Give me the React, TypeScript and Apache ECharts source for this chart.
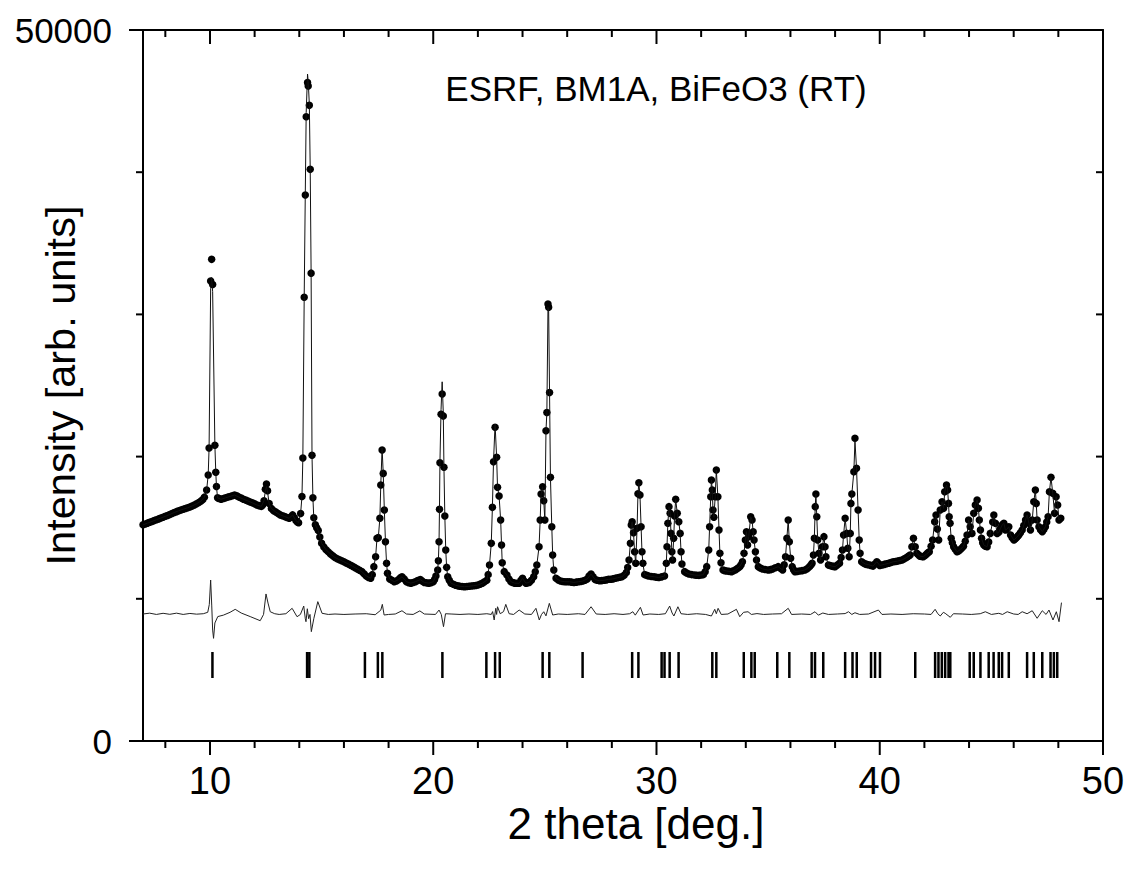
import React, { useEffect, useRef } from "react";
import * as echarts from "echarts";

const xMajorTicks = [10, 20, 30, 40, 50];
const xMinorTicks = [8, 12, 14, 16, 18, 22, 24, 26, 28, 32, 34, 36, 38, 42, 44, 46, 48];
const yMajorTicks = [0, 50000];
const yMinorTicks = [10000, 20000, 30000, 40000];

const annotation = "ESRF, BM1A, BiFeO3 (RT)";
const xTitle = "2 theta [deg.]";
const yTitle = "Intensity [arb. units]";

const braggPositions = [
  10.11, 14.35, 14.45, 16.94, 17.52, 17.72, 20.41, 22.38, 22.77, 22.98, 24.9, 25.2, 26.69,
  28.91, 29.19, 30.23, 30.36, 30.59, 30.99, 32.5, 32.68, 33.91, 34.25, 34.4, 35.41, 35.95,
  36.95, 37.1, 37.47, 38.45, 38.78, 38.97, 39.61, 39.79, 40.01, 41.59, 42.48, 42.63, 42.78,
  42.93, 43.08, 43.16, 44.03, 44.21, 44.51, 44.88, 45.1, 45.33, 45.48, 45.78, 46.6, 46.9,
  47.28, 47.65, 47.8, 47.95,
];
const braggTop = 6260;
const braggBottom = 4430;

const observed: [number, number][] = [
  [7.0,15200],[7.1,15260],[7.2,15320],[7.3,15380],[7.4,15440],[7.5,15500],[7.6,15560],[7.7,15620],
  [7.8,15680],[7.9,15740],[8.0,15800],[8.1,15860],[8.2,15930],[8.3,16000],[8.4,16070],[8.5,16130],
  [8.6,16190],[8.7,16250],[8.8,16300],[8.9,16350],[9.0,16400],[9.1,16460],[9.2,16530],[9.3,16600],
  [9.4,16680],[9.5,16770],[9.6,16880],[9.68,16980],[9.75,17150],[9.85,17650],
  [9.92,18700],[9.96,20600],[10.03,32350],[10.075,33870],[10.12,32100],[10.22,20800],[10.26,18900],[10.29,17900],
  [10.34,17100],[10.4,17050],[10.5,17000],[10.6,17050],[10.7,17100],[10.8,17150],[10.9,17200],[11.0,17250],
  [11.1,17300],[11.2,17250],[11.3,17150],[11.4,17080],[11.5,17000],[11.6,16940],[11.7,16880],[11.8,16810],
  [11.9,16750],[12.0,16680],[12.1,16600],[12.2,16550],[12.3,16500],[12.36,16600],[12.42,16900],[12.48,17700],
  [12.53,18070],[12.58,17600],[12.65,16700],[12.75,16350],[12.85,16200],[12.95,16100],[13.05,16000],[13.15,15900],
  [13.25,15840],[13.35,15780],[13.45,15720],[13.55,15660],[13.62,15750],[13.7,15900],[13.78,15700],[13.85,15500],
  [13.91,15400],[13.97,15350],
  [14.06,16000],[14.12,17200],[14.16,19900],[14.22,31200],[14.27,38400],[14.31,43900],[14.37,46300],[14.40,46060],
  [14.45,44700],[14.49,40200],[14.53,32900],[14.57,20100],[14.61,17100],[14.65,15700],[14.72,15200],[14.78,15000],
  [14.85,14800],[14.92,14350],[15.0,13900],[15.1,13650],[15.2,13450],[15.3,13300],[15.4,13150],[15.5,13020],
  [15.6,12900],[15.7,12820],[15.8,12750],[15.9,12680],[16.0,12600],[16.1,12520],[16.2,12450],[16.3,12360],
  [16.4,12280],[16.5,12190],[16.6,12100],[16.7,12010],[16.8,11920],[16.9,11760],[17.0,11600],[17.1,11500],
  [17.2,11450],[17.27,11700],[17.34,12260],[17.42,12960],[17.48,14250],[17.54,14300],
  [17.61,15660],[17.65,18000],[17.71,20460],[17.76,18820],[17.81,16240],[17.86,14010],[17.91,12500],[17.95,11790],
  [18.05,11400],[18.15,11300],[18.25,11200],[18.35,11250],[18.45,11350],[18.53,11480],[18.6,11550],[18.7,11400],
  [18.8,11200],[18.9,11130],[19.0,11100],[19.1,11150],[19.2,11200],[19.3,11280],[19.42,11350],[19.5,11250],
  [19.6,11150],[19.7,11120],[19.8,11100],[19.9,11130],[20.0,11200],[20.06,11350],[20.12,11600],[20.2,12020],
  [20.23,12680],[20.26,14010],[20.28,16290],
  [20.30,19570],[20.35,22970],[20.40,24400],[20.45,22850],[20.48,19250],[20.52,15820],[20.56,13430],[20.60,12210],
  [20.65,11550],[20.72,11300],[20.8,11100],[20.9,11020],[21.0,10950],[21.1,10910],[21.2,10880],[21.3,10860],
  [21.4,10850],[21.5,10860],[21.6,10880],[21.7,10900],[21.8,10920],[21.9,10940],[22.0,10970],[22.1,11030],
  [22.2,11100],[22.3,11200],[22.4,11300],[22.46,11700],[22.52,12380],[22.6,13900],[22.65,16430],[22.70,19640],
  [22.77,22060],[22.84,19950],
  [22.88,17840],[22.95,17230],[23.02,15540],[23.06,13780],[23.09,12540],[23.18,11910],[23.30,11670],[23.39,11400],
  [23.48,11200],[23.56,11150],[23.65,11100],[23.75,11090],[23.85,11090],[23.93,11300],[24.0,11440],[24.07,11250],
  [24.15,11100],[24.22,11120],[24.3,11150],[24.4,11300],[24.5,11550],[24.57,11900],[24.64,12380],[24.74,13660],
  [24.79,15540],[24.83,17370],[24.90,17880],[24.95,16900],[25.00,15540],[25.05,21820],[25.09,23100],[25.14,30730],
  [25.17,30500],[25.21,24500],[25.25,18540],[25.31,15070],[25.35,13080],[25.40,12020],[25.50,11440],[25.6,11330],
  [25.7,11250],[25.8,11220],[25.9,11200],[26.0,11200],[26.1,11200],[26.2,11170],[26.3,11150],[26.4,11170],
  [26.5,11200],[26.6,11220],[26.7,11250],[26.8,11300],[26.9,11400],[26.98,11600],[27.07,11740],[27.16,11550],
  [27.25,11350],[27.35,11300],[27.45,11270],[27.55,11280],[27.65,11300],[27.75,11330],[27.85,11370],[27.95,11380],
  [28.05,11400],[28.15,11440],[28.25,11480],[28.35,11510],[28.45,11550],[28.55,11650],[28.65,11850],[28.71,12200],
  [28.77,12730],
  [28.83,13900],[28.87,15190],[28.91,15420],[28.97,14650],[29.02,13310],[29.07,12500],[29.13,14960],[29.17,17380],
  [29.21,18160],[29.26,17300],[29.31,15070],[29.35,13310],[29.39,12500],[29.47,11700],[29.56,11650],[29.65,11600],
  [29.78,11570],[29.9,11550],[30.0,11520],[30.1,11500],[30.22,11540],
  [30.36,11600],[30.44,12500],[30.47,13660],[30.51,15310],[30.56,16480],[30.61,16010],[30.65,14600],
  [30.69,13310],[30.72,12730],[30.77,14250],[30.81,15820],[30.86,17000],[30.93,16010],[31.00,15420],[31.06,14600],
  [31.10,13310],[31.14,12450],[31.26,11910],[31.35,11820],[31.45,11750],[31.58,11700],[31.71,11670],[31.8,11660],
  [31.9,11650],[32.0,11670],[32.1,11700],[32.18,11900],[32.25,12260],
  [32.34,13430],[32.38,15070],[32.43,17180],[32.46,18350],[32.50,17650],[32.53,16240],[32.57,15730],[32.63,17180],
  [32.68,19060],[32.75,17180],[32.80,14840],[32.84,13200],[32.89,12540],[32.98,12020],[33.06,11980],[33.15,11950],
  [33.25,11930],[33.36,11910],[33.45,11970],[33.55,12050],[33.64,12150],[33.73,12260],[33.79,12400],[33.85,12610],
  [33.92,13200],[33.98,14130],[34.03,14720],[34.08,13780],[34.13,14370],
  [34.22,15770],[34.28,15540],[34.33,14720],[34.37,14130],[34.43,13310],[34.48,12730],[34.56,12260],[34.65,12170],
  [34.75,12100],[34.87,12060],[35.0,12020],[35.1,12050],[35.2,12100],[35.32,12180],[35.45,12260],[35.55,12150],
  [35.65,12020],[35.72,12400],[35.78,12960],[35.84,14250],[35.90,15540],[35.95,14010],
  [36.01,12850],[36.08,12260],[36.14,12050],[36.20,11910],[36.3,11920],[36.4,11950],[36.52,11980],[36.65,12020],
  [36.75,12120],[36.85,12250],[36.92,12380],[36.97,12500],[37.03,13080],
  [37.07,14250],[37.11,16480],[37.14,17370],[37.18,15770],[37.22,14130],[37.28,13200],[37.35,12730],[37.43,13660],
  [37.50,14370],[37.55,13660],[37.59,12960],[37.70,12380],[37.77,12340],[37.85,12300],[37.93,12280],[38.0,12260],
  [38.1,12380],[38.2,12500],[38.27,12900],[38.33,13430],
  [38.38,14490],[38.45,15660],[38.52,14600],[38.57,13550],[38.63,12960],[38.68,14600],[38.71,16710],[38.75,17370],
  [38.84,18940],[38.89,21290],[38.96,19180],[39.03,16240],[39.08,14130],[39.12,13200],[39.19,12610],[39.27,12520],
  [39.35,12450],[39.42,12420],[39.5,12400],[39.6,12350],[39.7,12300],[39.78,12450],[39.87,12610],[39.94,12480],
  [40.0,12350],[40.1,12380],[40.2,12420],[40.3,12460],[40.4,12500],[40.5,12550],[40.6,12600],[40.7,12620],
  [40.8,12650],[40.9,12690],[41.0,12730],[41.1,12810],[41.2,12900],[41.28,12990],
  [41.36,13080],[41.44,13660],[41.51,14250],[41.59,13660],[41.66,13200],[41.73,13100],[41.8,13000],[41.88,12970],
  [41.95,12960],[42.03,13050],[42.1,13150],[42.16,13230],[42.22,13310],[42.3,13700],[42.37,14130],[42.46,15420],
  [42.52,15890],[42.58,14900],[42.64,14130],
  [42.71,16240],[42.79,16830],[42.86,16360],[42.91,17530],[42.99,18000],[43.04,17650],[43.08,16710],[43.11,15770],
  [43.15,15310],[43.20,14250],[43.25,13950],[43.31,13660],[43.38,13480],[43.46,13310],[43.53,13370],[43.6,13450],
  [43.68,13570],[43.75,13700],[43.83,14050],[43.91,14490],[43.98,15540],
  [44.05,15070],[44.13,14600],[44.21,16010],[44.28,16600],[44.36,16950],[44.42,16360],[44.46,15540],[44.51,14840],
  [44.56,14250],[44.61,13950],[44.66,13780],[44.73,13700],[44.81,13660],[44.88,14000],[44.95,14600],[45.06,15400],
  [45.11,15890],[45.18,15310],[45.26,14600],
  [45.34,14700],[45.41,14960],[45.49,15200],[45.56,15310],[45.63,14840],[45.70,14900],[45.78,15070],[45.86,14490],
  [45.93,14300],[46.01,14130],[46.06,14200],[46.12,14300],[46.18,14400],[46.23,14490],[46.3,14650],[46.38,14840],
  [46.45,15150],[46.53,15540],[46.60,15890],[46.68,15310],[46.75,14840],
  [46.83,15540],[46.90,16830],[46.97,17650],[47.01,16710],[47.05,15540],[47.13,15070],[47.2,14850],[47.28,14720],
  [47.35,14880],[47.42,15070],[47.48,15400],
  [47.54,15770],[47.60,17530],[47.67,18540],[47.75,17420],[47.83,16010],[47.90,17180],[47.97,16600],[48.03,15540],
  [48.11,15660],
];

const calculated: [number, number][] = [
  [7.0,15200],[7.2,15320],[7.4,15440],[7.6,15560],[7.8,15680],[8.0,15800],[8.2,15930],[8.4,16070],
  [8.6,16190],[8.8,16300],[9.0,16400],[9.2,16530],[9.4,16680],[9.6,16880],[9.75,17150],[9.85,17650],
  [9.92,18700],[9.96,20600],[10.03,31800],[10.075,32600],[10.12,31600],[10.22,20800],[10.26,18900],[10.29,17900],
  [10.34,17100],[10.5,17000],[10.7,17100],[10.9,17200],[11.1,17300],[11.3,17150],[11.5,17000],[11.7,16880],
  [11.9,16750],[12.1,16600],[12.3,16500],[12.42,16900],[12.48,17600],[12.53,17900],[12.58,17500],[12.65,16700],
  [12.75,16350],[12.95,16100],[13.15,15900],[13.35,15780],[13.55,15660],[13.7,15900],[13.85,15500],[13.97,15350],
  [14.06,16000],[14.12,17200],[14.16,19900],[14.22,31200],[14.27,38600],[14.31,44200],[14.37,46900],[14.40,46400],
  [14.45,44800],[14.49,40300],[14.53,32900],[14.57,20100],[14.61,17100],[14.65,15700],[14.72,15200],[14.85,14800],
  [15.0,13900],[15.2,13450],[15.4,13150],[15.6,12900],[15.8,12750],[16.0,12600],[16.2,12450],[16.4,12280],
  [16.6,12100],[16.8,11920],[17.0,11600],[17.2,11450],[17.34,12260],[17.42,12960],[17.48,14250],[17.54,14300],
  [17.61,15660],[17.65,18000],[17.71,20600],[17.76,18820],[17.81,16240],[17.86,14010],[17.91,12500],[17.95,11790],
  [18.05,11400],[18.25,11200],[18.45,11350],[18.6,11550],[18.8,11200],[19.0,11100],[19.2,11200],[19.42,11350],
  [19.6,11150],[19.8,11100],[20.0,11200],[20.12,11600],[20.2,12020],[20.23,12680],[20.26,14010],[20.28,16290],
  [20.30,19570],[20.35,23300],[20.40,25260],[20.45,23100],[20.48,19250],[20.52,15820],[20.56,13430],[20.60,12210],
  [20.65,11550],[20.8,11100],[21.0,10950],[21.2,10880],[21.4,10850],[21.6,10880],[21.8,10920],[22.0,10970],
  [22.2,11100],[22.4,11300],[22.52,12380],[22.6,13900],[22.65,16430],[22.70,19640],[22.77,22290],[22.84,19950],
  [22.88,17840],[22.95,17230],[23.02,15540],[23.06,13780],[23.09,12540],[23.18,11910],[23.30,11670],[23.48,11200],
  [23.65,11100],[23.85,11090],[24.0,11440],[24.15,11100],[24.3,11150],[24.5,11550],[24.64,12380],[24.74,13660],
  [24.79,15540],[24.83,17370],[24.90,17880],[24.95,16900],[25.00,15540],[25.05,21820],[25.09,23100],[25.14,30500],
  [25.17,30300],[25.21,24500],[25.25,18540],[25.31,15070],[25.35,13080],[25.40,12020],[25.50,11440],[25.7,11250],
  [25.9,11200],[26.1,11200],[26.3,11150],[26.5,11200],[26.7,11250],[26.9,11400],[27.07,11740],[27.25,11350],
  [27.45,11270],[27.65,11300],[27.85,11370],[28.05,11400],[28.25,11480],[28.45,11550],[28.65,11850],[28.77,12730],
  [28.83,13900],[28.87,15190],[28.91,15420],[28.97,14650],[29.02,13310],[29.07,12500],[29.13,14960],[29.17,17380],
  [29.21,18160],[29.26,17300],[29.31,15070],[29.35,13310],[29.39,12500],[29.47,11700],[29.65,11600],[29.9,11550],
  [30.1,11500],[30.36,11600],[30.44,12500],[30.47,13660],[30.51,15310],[30.56,16480],[30.61,16010],[30.65,14600],
  [30.69,13310],[30.72,12730],[30.77,14250],[30.81,15820],[30.86,17000],[30.93,16010],[31.00,15420],[31.06,14600],
  [31.10,13310],[31.14,12450],[31.26,11910],[31.45,11750],[31.71,11670],[31.9,11650],[32.1,11700],[32.25,12260],
  [32.34,13430],[32.38,15070],[32.43,17180],[32.46,18350],[32.50,17650],[32.53,16240],[32.57,15730],[32.63,17180],
  [32.68,19060],[32.75,17180],[32.80,14840],[32.84,13200],[32.89,12540],[32.98,12020],[33.15,11950],[33.36,11910],
  [33.55,12050],[33.73,12260],[33.85,12610],[33.92,13200],[33.98,14130],[34.03,14720],[34.08,13780],[34.13,14370],
  [34.22,15770],[34.28,15540],[34.33,14720],[34.37,14130],[34.43,13310],[34.48,12730],[34.56,12260],[34.75,12100],
  [35.0,12020],[35.2,12100],[35.45,12260],[35.65,12020],[35.78,12960],[35.84,14250],[35.90,15540],[35.95,14010],
  [36.01,12850],[36.08,12260],[36.20,11910],[36.4,11950],[36.65,12020],[36.85,12250],[36.97,12500],[37.03,13080],
  [37.07,14250],[37.11,16480],[37.14,17370],[37.18,15770],[37.22,14130],[37.28,13200],[37.35,12730],[37.43,13660],
  [37.50,14370],[37.55,13660],[37.59,12960],[37.70,12380],[37.85,12300],[38.0,12260],[38.2,12500],[38.33,13430],
  [38.38,14490],[38.45,15660],[38.52,14600],[38.57,13550],[38.63,12960],[38.68,14600],[38.71,16710],[38.75,17370],
  [38.84,18940],[38.89,21100],[38.96,19180],[39.03,16240],[39.08,14130],[39.12,13200],[39.19,12610],[39.35,12450],
  [39.5,12400],[39.7,12300],[39.87,12610],[40.0,12350],[40.2,12420],[40.4,12500],[40.6,12600],[40.8,12650],
  [41.0,12730],[41.2,12900],[41.36,13080],[41.44,13660],[41.51,14250],[41.59,13660],[41.66,13200],[41.8,13000],
  [41.95,12960],[42.1,13150],[42.22,13310],[42.37,14130],[42.46,15420],[42.52,15890],[42.58,14900],[42.64,14130],
  [42.71,16240],[42.79,16830],[42.86,16360],[42.91,17530],[42.99,18000],[43.04,17650],[43.08,16710],[43.11,15770],
  [43.15,15310],[43.20,14250],[43.31,13660],[43.46,13310],[43.6,13450],[43.75,13700],[43.91,14490],[43.98,15540],
  [44.05,15070],[44.13,14600],[44.21,16010],[44.28,16600],[44.36,16950],[44.42,16360],[44.46,15540],[44.51,14840],
  [44.56,14250],[44.66,13780],[44.81,13660],[44.95,14600],[45.06,15400],[45.11,15890],[45.18,15310],[45.26,14600],
  [45.34,14700],[45.41,14960],[45.49,15200],[45.56,15310],[45.63,14840],[45.70,14900],[45.78,15070],[45.86,14490],
  [46.01,14130],[46.12,14300],[46.23,14490],[46.38,14840],[46.53,15540],[46.60,15890],[46.68,15310],[46.75,14840],
  [46.83,15540],[46.90,16830],[46.97,17650],[47.01,16710],[47.05,15540],[47.13,15070],[47.28,14720],[47.42,15070],
  [47.54,15770],[47.60,17530],[47.67,18540],[47.75,17420],[47.83,16010],[47.90,17180],[47.97,16600],[48.03,15540],
  [48.11,15660],
];

const difference: [number, number][] = [
  [7.0,8930],[7.3,8990],[7.6,8900],[7.9,8980],[8.2,8910],[8.5,8990],[8.8,8900],[9.1,8970],[9.4,8920],[9.7,8950],
  [9.9,9050],[9.97,9600],[10.03,11320],[10.08,9500],[10.12,7800],[10.16,7220],[10.22,8300],[10.35,8750],[10.6,8850],
  [10.9,9050],[11.13,9260],[11.4,9000],[11.8,8750],[12.25,8460],[12.4,8900],[12.51,10340],[12.6,9700],[12.7,9090],
  [12.9,8950],[13.1,8900],[13.4,8950],[13.68,9330],[13.9,8740],[14.05,8900],[14.2,9490],[14.27,8600],[14.3,8390],
  [14.36,9300],[14.42,8600],[14.48,8900],[14.54,7690],[14.65,8600],[14.83,9800],[15.02,8980],[15.3,8900],[15.6,8930],
  [16.0,8900],[16.5,8930],[17.0,8950],[17.4,8880],[17.65,9200],[17.72,9610],[17.8,8860],[18.0,8900],[18.3,8930],
  [18.6,9160],[18.8,8930],[19.1,8900],[19.4,9150],[19.6,8930],[20.1,8900],[20.26,9210],[20.36,8900],[20.46,8040],
  [20.55,8950],[20.8,8930],[21.2,8900],[21.6,8930],[22.0,8900],[22.4,8950],[22.6,8900],[22.66,9100],[22.73,8510],
  [22.8,9330],[22.84,8900],[22.88,9440],[23.0,8950],[23.15,9100],[23.25,9610],[23.4,8950],[23.6,8900],[23.85,9210],
  [24.1,8930],[24.4,8900],[24.6,9330],[24.75,8510],[24.85,8900],[24.95,9090],[25.05,8800],[25.2,9680],[25.35,8860],
  [25.6,8930],[26.0,8900],[26.5,8950],[26.8,8900],[27.07,9440],[27.3,8930],[27.7,8900],[28.1,8950],[28.5,8900],
  [28.8,8950],[28.94,9090],[29.05,8850],[29.28,9400],[29.4,8860],[29.7,8930],[30.1,8900],[30.4,8950],[30.59,9490],
  [30.7,9000],[30.78,8790],[30.96,9440],[31.1,8950],[31.4,8900],[31.8,8950],[32.2,8900],[32.46,8790],[32.61,9260],
  [32.68,8950],[32.76,9330],[32.9,8900],[33.2,8930],[33.58,9260],[33.73,8740],[33.9,9050],[34.1,9090],[34.25,8900],
  [34.5,8960],[34.8,8900],[35.2,8930],[35.6,8950],[35.9,9330],[36.05,8900],[36.5,8930],[36.9,8900],[37.1,9090],
  [37.25,8850],[37.45,9000],[37.7,8900],[38.1,8930],[38.45,8960],[38.6,9090],[38.75,8900],[38.89,9020],[39.1,8900],
  [39.5,8930],[39.94,9210],[40.1,8900],[40.5,8930],[41.0,8900],[41.5,8950],[42.0,8930],[42.3,8900],[42.48,9260],
  [42.6,8950],[42.71,8790],[42.85,9050],[42.93,8980],[43.16,8700],[43.3,8950],[43.7,8930],[44.1,8900],[44.5,8950],
  [44.73,9090],[45.0,8900],[45.33,8980],[45.5,8900],[45.71,9090],[46.0,8930],[46.2,8900],[46.38,9090],[46.6,8950],
  [46.83,9160],[47.05,8630],[47.28,9160],[47.45,8900],[47.58,9210],[47.76,8510],[47.91,9090],[48.03,8390],[48.14,9730],
];

const X_MIN = 7;
const X_MAX = 50;
const Y_MIN = 0;
const Y_MAX = 50000;

const FONT = "Arial, 'Liberation Sans', Helvetica, sans-serif";

export default function App() {
  const ref = useRef<HTMLDivElement>(null);

  useEffect(() => {
    if (!ref.current) return;
    const chart = echarts.init(ref.current, null, { renderer: "svg" });
    const black = "#000";
    const tickStyle = { stroke: black, lineWidth: 2 };

    const xTickSeries = (ticks: number[], len: number) => ({
      type: "custom",
      silent: true,
      clip: false,
      xAxisIndex: 0,
      yAxisIndex: 0,
      data: ticks.map((v) => [v, Y_MIN]),
      renderItem: (_p: any, api: any) => {
        const v = api.value(0);
        const b = api.coord([v, Y_MIN]);
        const t = api.coord([v, Y_MAX]);
        return {
          type: "group",
          children: [
            { type: "line", shape: { x1: b[0], y1: b[1], x2: b[0], y2: b[1] + len }, style: tickStyle },
            { type: "line", shape: { x1: t[0], y1: t[1], x2: t[0], y2: t[1] + len }, style: tickStyle },
          ],
        };
      },
      z: 5,
    });

    const yTickSeries = (ticks: number[], len: number) => ({
      type: "custom",
      silent: true,
      clip: false,
      xAxisIndex: 0,
      yAxisIndex: 0,
      data: ticks.map((v) => [X_MIN, v]),
      renderItem: (_p: any, api: any) => {
        const v = api.value(1);
        const l = api.coord([X_MIN, v]);
        const r = api.coord([X_MAX, v]);
        return {
          type: "group",
          children: [
            { type: "line", shape: { x1: l[0], y1: l[1], x2: l[0] - len, y2: l[1] }, style: tickStyle },
            { type: "line", shape: { x1: r[0], y1: r[1], x2: r[0] - len, y2: r[1] }, style: tickStyle },
          ],
        };
      },
      z: 5,
    });

    const lineOnly = { show: true, onZero: false, lineStyle: { color: black, width: 2 } };

    chart.setOption({
      animation: false,
      backgroundColor: "#fff",
      grid: {
        left: 143,
        right: 26,
        top: 30,
        bottom: 135,
        containLabel: false,
        outerBoundsMode: "none",
      },
      xAxis: [
        {
          type: "value",
          position: "bottom",
          min: X_MIN,
          max: X_MAX,
          axisLine: lineOnly,
          axisTick: { show: false },
          axisLabel: {
            show: true,
            customValues: xMajorTicks,
            formatter: (v: number) => String(v),
            fontSize: 38,
            color: black,
            fontFamily: FONT,
            margin: 21,
          },
          splitLine: { show: false },
        },
        {
          type: "value",
          position: "top",
          min: X_MIN,
          max: X_MAX,
          axisLine: lineOnly,
          axisTick: { show: false },
          axisLabel: { show: false },
          splitLine: { show: false },
        },
      ],
      yAxis: [
        {
          type: "value",
          position: "left",
          min: Y_MIN,
          max: Y_MAX,
          name: yTitle,
          nameLocation: "middle",
          nameGap: 62,
          nameMoveOverlap: false,
          nameTextStyle: { fontSize: 41.5, color: black, fontFamily: FONT },
          axisLine: lineOnly,
          axisTick: { show: false },
          axisLabel: {
            show: true,
            customValues: yMajorTicks,
            formatter: (v: number) => String(v),
            fontSize: 35,
            color: black,
            fontFamily: FONT,
            margin: 31,
          },
          splitLine: { show: false },
        },
        {
          type: "value",
          position: "right",
          min: Y_MIN,
          max: Y_MAX,
          axisLine: lineOnly,
          axisTick: { show: false },
          axisLabel: { show: false },
          splitLine: { show: false },
        },
      ],
      graphic: [
        {
          type: "text",
          x: 656,
          y: 88,
          style: {
            text: annotation,
            fontSize: 35,
            fontFamily: FONT,
            fill: black,
            align: "center",
            verticalAlign: "middle",
          },
        },
        {
          type: "text",
          x: 636,
          y: 823,
          style: {
            text: xTitle,
            fontSize: 44,
            fontFamily: FONT,
            fill: black,
            align: "center",
            verticalAlign: "middle",
          },
        },
      ],
      series: [
        {
          name: "Observed",
          type: "scatter",
          xAxisIndex: 0,
          yAxisIndex: 0,
          data: observed,
          symbol: "circle",
          symbolSize: 7.5,
          itemStyle: { color: black, opacity: 1 },
          z: 2,
        },
        {
          name: "Calculated",
          type: "line",
          xAxisIndex: 0,
          yAxisIndex: 0,
          data: calculated,
          showSymbol: false,
          symbol: "none",
          lineStyle: { color: "#111", width: 1 },
          z: 3,
        },
        {
          name: "Difference",
          type: "line",
          xAxisIndex: 0,
          yAxisIndex: 0,
          data: difference,
          showSymbol: false,
          symbol: "none",
          lineStyle: { color: "#222", width: 1 },
          z: 3,
        },
        {
          name: "Bragg",
          type: "custom",
          xAxisIndex: 0,
          yAxisIndex: 0,
          clip: false,
          data: braggPositions.map((p) => [p, braggTop]),
          renderItem: (_params: any, api: any) => {
            const x = api.value(0);
            const p1 = api.coord([x, braggTop]);
            const p2 = api.coord([x, braggBottom]);
            return {
              type: "line",
              shape: { x1: p1[0], y1: p1[1], x2: p2[0], y2: p2[1] },
              style: { stroke: black, lineWidth: 2.5 },
            };
          },
          z: 3,
        },
        xTickSeries(xMajorTicks, 14),
        xTickSeries(xMinorTicks, 7),
        yTickSeries(yMajorTicks, 14),
        yTickSeries(yMinorTicks, 7),
      ],
    });

    return () => {
      chart.dispose();
    };
  }, []);

  return (
    <div
      ref={ref}
      style={{ position: "absolute", left: 0, top: 0, width: 1129, height: 876, background: "#fff" }}
    />
  );
}
